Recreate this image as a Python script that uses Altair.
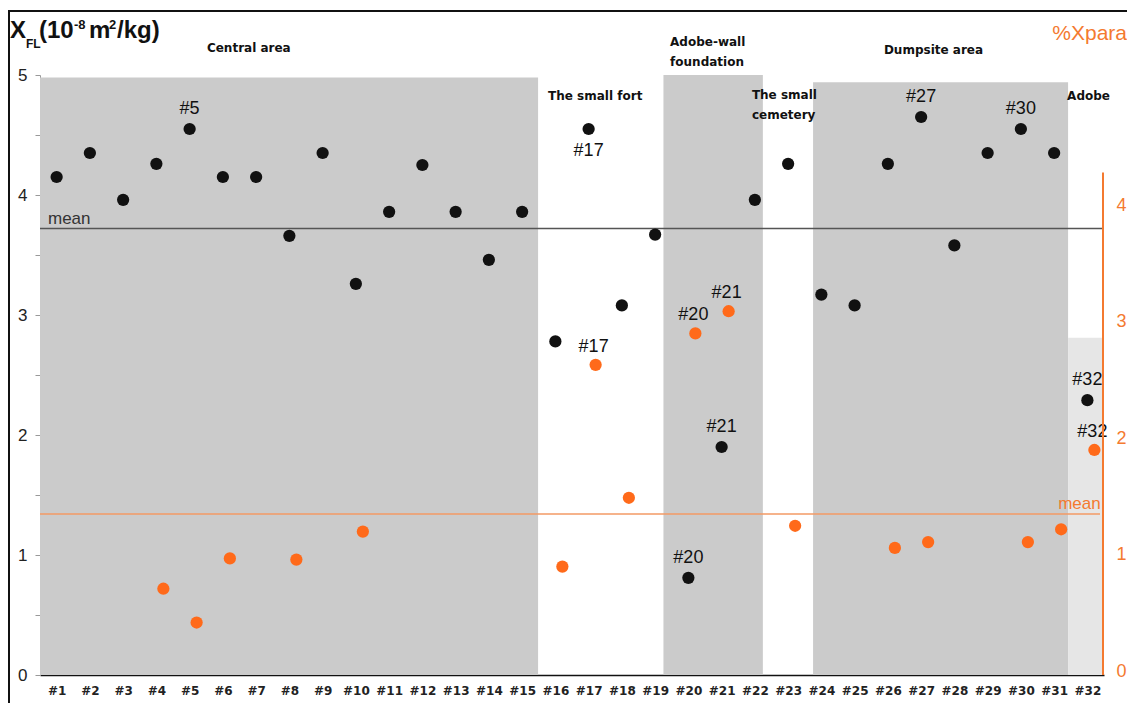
import altair as alt
import pandas as pd

W, H = 1064, 600
ORANGE = "#ff6a1a"
ORANGE_AX = "#f47a30"

# ---------------- data ----------------
samples = list(range(1, 33))
xfl = [4.15, 4.35, 3.96, 4.26, 4.55, 4.15, 4.15, 3.66, 4.35, 3.26, 3.86, 4.25, 3.86, 3.46, 3.86,
       2.78, 4.55, 3.08, 3.67, 0.81, 1.90, 3.96, 4.26, 3.17, 3.08, 4.26, 4.65, 3.58, 4.35, 4.55, 4.35, 2.29]
xpara_samples = [4, 5, 6, 8, 10, 16, 17, 18, 20, 21, 23, 26, 27, 30, 31, 32]
xpara = [0.71, 0.42, 0.97, 0.96, 1.20, 0.90, 2.63, 1.49, 2.90, 3.09, 1.25, 1.06, 1.11, 1.11, 1.22, 1.90]
xfl_mean = 3.72
xpara_mean = 1.35

zone_start = [0.5, 19.25, 23.75, 31.42]
zone_end = [15.48, 22.24, 31.42, 32.5]
zone_top = [4.98, 5.0, 4.94, 2.81]
zone_fill = ["#cbcbcb", "#cbcbcb", "#cbcbcb", "#e6e6e6"]

region_text = ["Central area", "The small fort", "Adobe-wall", "foundation", "The small",
               "cemetery", "Dumpsite area", "Adobe"]
region_x = [5.52, 15.78, 19.45, 19.45, 21.91, 21.91, 25.88, 31.39]
region_y = [5.225, 4.825, 5.275, 5.108, 4.83, 4.667, 5.21, 4.825]

xfl_label_samples = [5, 17, 20, 21, 27, 30, 32]
xfl_label_below = [17]
xpara_label_samples = [17, 20, 21, 32]

# ---------------- tables ----------------
pts = pd.DataFrame({"sample": samples, "v": xfl})
opts = pd.DataFrame({"sample": xpara_samples, "p": xpara})
zones = pd.DataFrame({"x0": zone_start, "x1": zone_end, "top": zone_top, "fill": zone_fill, "bot": 0.0})
regions = pd.DataFrame({"sample": region_x, "v": region_y, "t": region_text})
lab = pd.DataFrame({"sample": xfl_label_samples,
                    "v": [xfl[s - 1] for s in xfl_label_samples],
                    "t": ["#%d" % s for s in xfl_label_samples],
                    "below": [s in xfl_label_below for s in xfl_label_samples]})
olab = pd.DataFrame({"sample": xpara_label_samples,
                     "p": [xpara[xpara_samples.index(s)] for s in xpara_label_samples],
                     "t": ["#%d" % s for s in xpara_label_samples]})
one = pd.DataFrame({"a": [0]})

LAB_FONT = "Liberation Sans"
LAB_SIZE = 18

xscale = alt.Scale(domain=[0.5, 32.5], nice=False, zero=False)
xaxis = alt.Axis(values=samples, labelExpr="'#' + datum.value", ticks=False, grid=False, title=None,
                 domainColor="#111", domainWidth=1.5, labelFont="DejaVu Sans", labelFontWeight="bold",
                 labelFontSize=12, labelColor="#222", labelPadding=10, labelFlush=False)
yscale = alt.Scale(domain=[0, 5], nice=False, zero=False)
yaxis = alt.Axis(values=[i * 0.5 for i in range(11)],
                 labelExpr="datum.value % 1 === 0 ? '' + datum.value : ''",
                 grid=False, title=None, domainColor="#999", tickColor="#999", tickSize=5,
                 labelFont="Liberation Sans", labelFontSize=17, labelColor="#222", labelPadding=8)
pscale = alt.Scale(domain=[-0.03, 5.116], nice=False, zero=False)
paxis = alt.Axis(orient="right", values=[0, 1, 2, 3, 4], domain=False, ticks=False, grid=False,
                 title=None, labelFont="Liberation Sans", labelFontSize=18, labelColor=ORANGE_AX,
                 labelPadding=12)


def XS(field):
    return alt.X(field, scale=xscale, axis=xaxis)


def YL(field):
    return alt.Y(field, scale=yscale, axis=yaxis)


def YR(field):
    return alt.Y(field, scale=pscale, axis=paxis)


zone_layer = alt.Chart(zones).mark_rect().encode(
    x=XS("x0:Q"), x2="x1:Q", y=YL("bot:Q"), y2="top:Q",
    fill=alt.Fill("fill:N", scale=None))

mean_l = alt.Chart(pd.DataFrame({"m": [xfl_mean]})).mark_rule(color="#555", strokeWidth=1.5).encode(
    y=YL("m:Q"), x=alt.value(0), x2=alt.value(W - 2))
mean_l_txt = alt.Chart(pd.DataFrame({"m": [xfl_mean], "s": [0.74]})).mark_text(
    text="mean", align="left", baseline="bottom", dy=-1, fontSize=17, font=LAB_FONT, color="#333").encode(
    x=XS("s:Q"), y=YL("m:Q"))

black_pts = alt.Chart(pts).mark_circle(size=150, color="#111", opacity=1).encode(
    x=XS("sample:Q"), y=YL("v:Q"))

region_txt = alt.Chart(regions).mark_text(align="left", baseline="middle", font="DejaVu Sans",
                                          fontWeight="bold", fontSize=12, color="#111").encode(
    x=XS("sample:Q"), y=YL("v:Q"), text="t:N")

lab_above = alt.Chart(lab[~lab["below"]]).mark_text(dy=-20, fontSize=LAB_SIZE, font=LAB_FONT, color="#111",
                                                    baseline="middle").encode(
    x=XS("sample:Q"), y=YL("v:Q"), text="t:N")
lab_below = alt.Chart(lab[lab["below"]]).mark_text(dy=22, fontSize=LAB_SIZE, font=LAB_FONT, color="#111",
                                                   baseline="middle").encode(
    x=XS("sample:Q"), y=YL("v:Q"), text="t:N")


def px_text(txt, px, py, size, color="#111", align="left", weight="bold"):
    return alt.Chart(one).mark_text(text=txt, align=align, baseline="alphabetic", fontSize=size,
                                    fontWeight=weight, font="Liberation Sans", color=color).encode(
        x=alt.value(px - 40), y=alt.value(py - 75))


title_parts = [
    px_text("X", 10, 38, 24),
    px_text("FL", 26, 48, 12),
    px_text("(10", 39, 38, 24),
    px_text("-8", 74, 29, 13),
    px_text("m", 89, 38, 24),
    px_text("2", 109, 29, 13),
    px_text("/kg)", 117, 38, 24),
    px_text("%Xpara", 1127, 40, 21, color=ORANGE_AX, align="right", weight="normal"),
]

border_top = alt.Chart(one).mark_rule(color="#111", strokeWidth=2).encode(
    x=alt.value(-32), x2=alt.value(W + 30), y=alt.value(-64))
border_left = alt.Chart(one).mark_rule(color="#111", strokeWidth=2).encode(
    x=alt.value(-31), y=alt.value(-64), y2=alt.value(H + 40))

left = alt.layer(zone_layer, mean_l, mean_l_txt, black_pts, region_txt, lab_above, lab_below,
                 border_top, border_left, *title_parts)

# right (orange) scale
mean_r = alt.Chart(pd.DataFrame({"m": [xpara_mean]})).mark_rule(color="#f39a64", strokeWidth=1.5).encode(
    y=YR("m:Q"), x=alt.value(0), x2=alt.value(W - 4))
mean_r_txt = alt.Chart(pd.DataFrame({"m": [xpara_mean], "s": [32.4]})).mark_text(
    text="mean", align="right", baseline="bottom", dy=-1, fontSize=17, font=LAB_FONT, color=ORANGE_AX).encode(
    x=XS("s:Q"), y=YR("m:Q"))
orange_pts = alt.Chart(opts).mark_circle(size=150, color=ORANGE, opacity=1, xOffset=7).encode(
    x=XS("sample:Q"), y=YR("p:Q"))
olab_txt = alt.Chart(olab).mark_text(dy=-18, xOffset=5, fontSize=LAB_SIZE, font=LAB_FONT, color="#111",
                                     baseline="middle").encode(
    x=XS("sample:Q"), y=YR("p:Q"), text="t:N")
r_axis_line = alt.Chart(pd.DataFrame({"lo": [-0.03], "hi": [4.28]})).mark_rule(
    color=ORANGE_AX, strokeWidth=2).encode(
    x=alt.value(W - 1), y=YR("lo:Q"), y2="hi:Q")

right = alt.layer(mean_r, mean_r_txt, orange_pts, olab_txt, r_axis_line)

chart = alt.layer(left, right).resolve_scale(y="independent").properties(
    width=W, height=H, padding={"left": 32, "top": 67, "right": 23, "bottom": 28},
    autosize=alt.AutoSizeParams(type="none"), background="white"
).configure_view(stroke=None)

chart.save("out.html", embed_options={"renderer": "svg", "actions": False})
